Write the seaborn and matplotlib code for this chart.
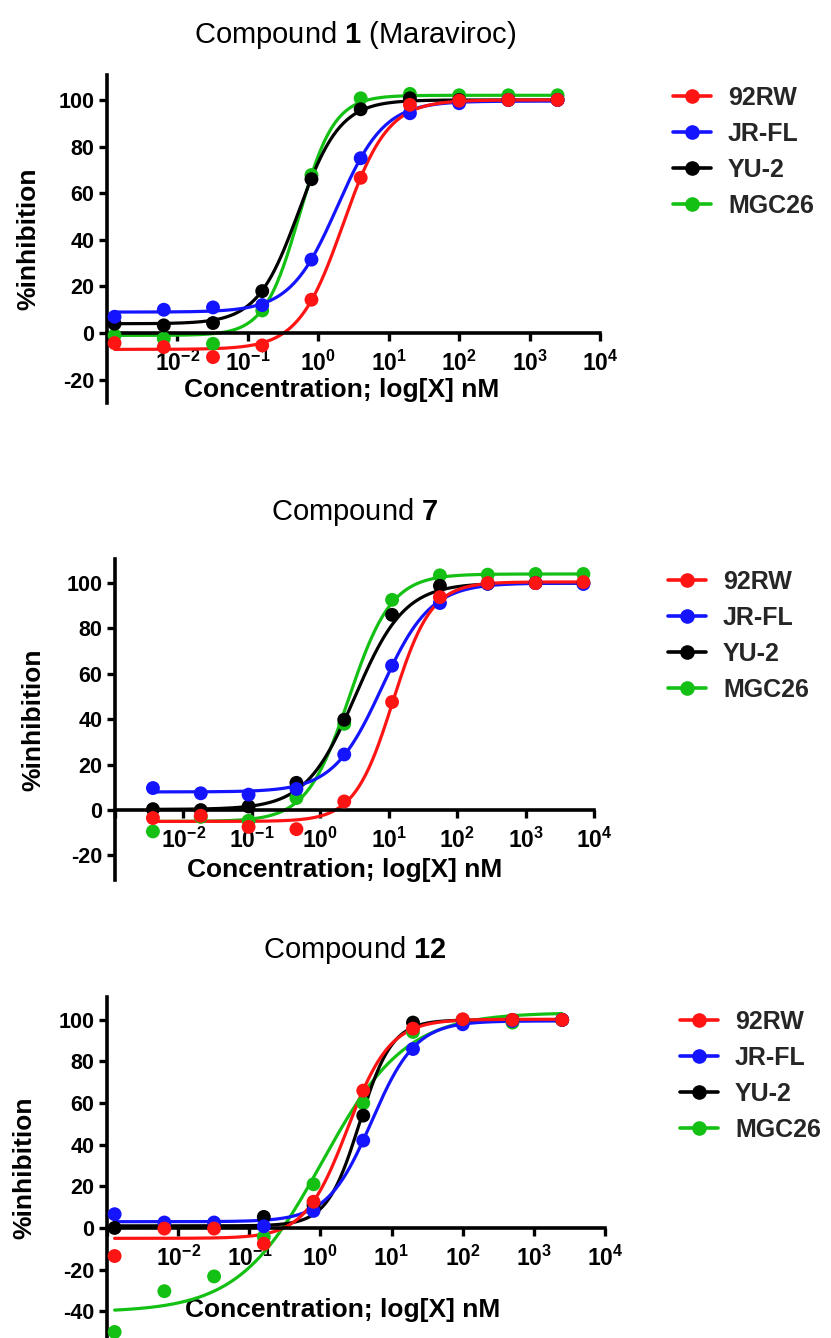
import numpy as np
import pandas as pd
import matplotlib
matplotlib.use("Agg")
import matplotlib.pyplot as plt
from matplotlib.lines import Line2D
import seaborn as sns

# ---------------- data ----------------
strains = ["92RW", "JR-FL", "YU-2", "MGC26"]
strain_colors = ["#ff1414", "#1414ff", "#000000", "#14c014"]
draw_order = ["MGC26", "YU-2", "JR-FL", "92RW"]

# concentrations (nM), 5-fold dilution series
conc_a = [0.00128, 0.0064, 0.032, 0.16, 0.8, 4, 20, 100, 500, 2500]
conc_b = [0.003584, 0.01792, 0.0896, 0.448, 2.24, 11.2, 56, 280, 1400, 7000]

# Compound 1 (Maraviroc) - % inhibition
c1_92RW = [-4.3, -6.0, -10.3, -5.3, 14.3, 66.6, 97.9, 99.7, 100.0, 100.0]
c1_JRFL = [7.0, 10.0, 11.0, 12.0, 31.5, 75.0, 94.3, 98.6, 100.0, 100.0]
c1_YU2 = [4.0, 3.3, 4.3, 18.0, 66.0, 96.0, 100.7, 100.0, 100.0, 100.0]
c1_MGC26 = [-1.0, -2.4, -4.6, 9.7, 67.8, 100.7, 102.6, 102.0, 102.0, 102.0]

# Compound 7
c7_92RW = [-3.5, -2.5, -7.4, -8.4, 3.8, 47.6, 93.8, 100.0, 100.0, 100.4]
c7_JRFL = [9.7, 7.4, 6.8, 9.3, 24.5, 63.6, 91.2, 99.7, 100.0, 99.6]
c7_YU2 = [0.4, 0.0, 1.6, 12.0, 39.8, 86.0, 98.8, 99.7, 100.0, 100.0]
c7_MGC26 = [-9.4, -3.0, -4.7, 5.3, 38.0, 92.6, 103.4, 103.7, 104.0, 104.0]

# Compound 12
c12_92RW = [-13.5, -0.3, -0.3, -7.6, 12.6, 66.0, 95.8, 100.3, 100.0, 100.0]
c12_JRFL = [6.6, 2.6, 2.6, 0.8, 8.2, 42.0, 86.0, 97.9, 99.5, 100.0]
c12_YU2 = [0.0, 0.5, 0.5, 5.3, 11.0, 54.0, 98.7, 100.0, 100.0, 100.0]
c12_MGC26 = [-50.0, -30.4, -23.3, -4.3, 21.0, 60.0, 94.2, 99.5, 98.7, 100.0]

# 4-parameter logistic fit parameters:
# (bottom, top, logEC50, hill)
fit1 = {"92RW": (-7.0, 100.0, 0.35, 1.37), "JR-FL": (9.0, 99.5, 0.27, 1.30),
        "YU-2": (4.0, 100.0, -0.28, 1.47), "MGC26": (-1.0, 102.0, -0.27, 1.75)}
fit7 = {"92RW": (-5.0, 100.5, 1.06, 1.55), "JR-FL": (8.0, 100.0, 0.90, 1.22),
        "YU-2": (0.3, 100.0, 0.51, 1.20), "MGC26": (-5.0, 104.0, 0.42, 1.40)}
fit12 = {"92RW": (-5.0, 100.3, 0.38, 1.45), "JR-FL": (3.0, 99.5, 0.72, 1.40),
         "YU-2": (1.0, 100.0, 0.55, 1.90), "MGC26": (-40.5, 103.5, 0.02, 0.74)}

title_prefix = "Compound "
title_numbers = ["1", "7", "12"]
title_suffix = [" (Maraviroc)", "", ""]

x_exponents = [-3, -2, -1, 0, 1, 2, 3, 4]
x_ticklabels = [""] + [r"$\mathbf{10^{%d}}$" % e for e in x_exponents[1:]]
yticks_ab = [-20, 0, 20, 40, 60, 80, 100]
yticks_c = [-40, -20, 0, 20, 40, 60, 80, 100]
xlabel_text = "Concentration; log[X] nM"
ylabel_text = "%inhibition"

panels = [
    dict(conc=conc_a, vals=[c1_92RW, c1_JRFL, c1_YU2, c1_MGC26], fit=fit1,
         rect=(107, 75, 600, 403), ylim=(-30, 110.7), yticks=yticks_ab,
         xlab=(0.475, 0.04), ylabx=-0.16, title_y=35, leg=(673, 86)),
    dict(conc=conc_b, vals=[c7_92RW, c7_JRFL, c7_YU2, c7_MGC26], fit=fit7,
         rect=(115, 559, 594, 880), ylim=(-30.8, 110.6), yticks=yticks_ab,
         xlab=(0.48, 0.031), ylabx=-0.171, title_y=512, leg=(668, 570)),
    dict(conc=conc_a, vals=[c12_92RW, c12_JRFL, c12_YU2, c12_MGC26], fit=fit12,
         rect=(107, 997, 605, 1338), ylim=(-52.9, 111), yticks=yticks_c,
         xlab=(0.474, 0.083), ylabx=-0.165, title_y=950, leg=(680, 1010)),
]

# ---------------- style ----------------
sns.set_theme(style="white")
FONT = ["Liberation Sans", "DejaVu Sans"]
plt.rcParams["font.family"] = FONT
plt.rcParams["mathtext.fontset"] = "custom"
plt.rcParams["mathtext.rm"] = "Liberation Sans"
plt.rcParams["mathtext.bf"] = "Liberation Sans:bold"
plt.rcParams["mathtext.it"] = "Liberation Sans:italic"

W, H = 831, 1338
fig = plt.figure(figsize=(W / 100, H / 100), dpi=100)
fig.patch.set_facecolor("white")

palette = dict(zip(strains, strain_colors))


def logistic(x, bottom, top, logec50, hill):
    return bottom + (top - bottom) / (1 + 10 ** ((logec50 - np.log10(x)) * hill))


for i, p in enumerate(panels):
    l, t, r, b = p["rect"]
    ax = fig.add_axes([l / W, 1 - b / H, (r - l) / W, (b - t) / H])
    ax.set_facecolor("none")

    # points
    rows = []
    for s in draw_order:
        vals = p["vals"][strains.index(s)]
        for c, v in zip(p["conc"], vals):
            rows.append((s, c, v))
    pts = pd.DataFrame(rows, columns=["strain", "conc", "inh"])

    # fitted curves
    xs = np.logspace(np.log10(min(p["conc"])), np.log10(max(p["conc"])), 400)
    crows = []
    for s in draw_order:
        ys = logistic(xs, *p["fit"][s])
        for xx, yy in zip(xs, ys):
            crows.append((s, xx, yy))
    curves = pd.DataFrame(crows, columns=["strain", "conc", "inh"])

    for s in draw_order:
        sub_c = curves[curves.strain == s]
        sns.lineplot(data=sub_c, x="conc", y="inh", color=palette[s], ax=ax,
                     linewidth=2.3, legend=False, estimator=None, sort=True, zorder=2)
        sub_p = pts[pts.strain == s]
        sns.scatterplot(data=sub_p, x="conc", y="inh", color=palette[s], ax=ax,
                        s=100, edgecolor="none", legend=False, zorder=3, clip_on=False)

    ax.set_xscale("log")
    ax.set_xlim(10.0 ** x_exponents[0], 10.0 ** x_exponents[-1])
    ax.set_ylim(*p["ylim"])
    ax.set_xticks([10.0 ** e for e in x_exponents])
    ax.set_xticklabels(x_ticklabels)
    ax.xaxis.set_minor_locator(matplotlib.ticker.NullLocator())
    ax.set_yticks(p["yticks"])
    ax.set_yticklabels([str(v) for v in p["yticks"]])

    for side in ["top", "right"]:
        ax.spines[side].set_visible(False)
    ax.spines["bottom"].set_position(("data", 0))
    ax.spines["bottom"].set_linewidth(2.6)
    ax.spines["left"].set_linewidth(2.6)
    ax.spines["bottom"].set_color("black")
    ax.spines["left"].set_color("black")
    ax.tick_params(axis="x", direction="out", length=6, width=2.4, pad=7,
                   labelsize=16.5, colors="black", bottom=True)
    ax.tick_params(axis="y", direction="out", length=6, width=2.4, pad=3,
                   labelsize=15.5, colors="black", left=True)
    for lab in ax.get_yticklabels():
        lab.set_fontweight("bold")

    ax.set_xlabel(xlabel_text, fontsize=19, fontweight="bold", color="black")
    ax.xaxis.set_label_coords(*p["xlab"])
    ax.xaxis.label.set_va("center")
    ax.set_ylabel(ylabel_text, fontsize=19, fontweight="bold", color="black")
    ax.yaxis.set_label_coords(p["ylabx"], 0.5)
    ax.yaxis.label.set_va("center")

    # title
    title = title_prefix + r"$\mathbf{%s}$" % title_numbers[i] + title_suffix[i]
    fig.text(355 / W, 1 - p["title_y"] / H, title, ha="center", va="center",
             fontsize=21, color="black")

    # legend
    handles = [Line2D([0], [0], color=c, marker="o", markersize=9.5, linewidth=2.6)
               for c in strain_colors]
    lx, ly = p["leg"]
    fig.legend(handles, strains, loc="upper left",
               bbox_to_anchor=(lx / W, 1 - ly / H), bbox_transform=fig.transFigure,
               frameon=False, prop={"family": FONT, "weight": "bold", "size": 18},
               handlelength=1.5, handletextpad=0.7, labelspacing=0.48,
               borderpad=0, borderaxespad=0)

fig.savefig("out.png", dpi=100, facecolor="white")
